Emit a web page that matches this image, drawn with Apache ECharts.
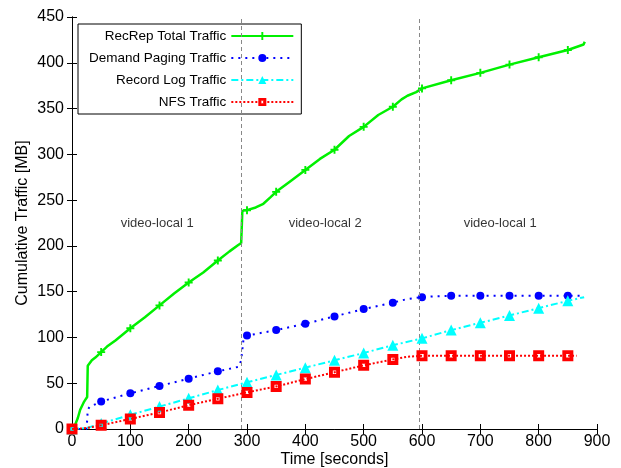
<!DOCTYPE html>
<html>
<head>
<meta charset="utf-8">
<script src="https://cdn.jsdelivr.net/npm/echarts@6/dist/echarts.min.js"></script>
<style>html,body{margin:0;padding:0;background:#fff}#c{width:621px;height:468px}</style>
</head>
<body>
<div id="c"></div>
<script>
// ---- data ----
const seriesNames = ['RecRep Total Traffic', 'Demand Paging Traffic', 'Record Log Traffic', 'NFS Traffic'];

const totalTime = [0, 5, 10, 14, 20, 23, 26, 27, 34, 40, 50, 60, 75, 100, 125, 150, 175, 200, 225, 250, 270, 285, 290, 292, 296, 300, 315, 328, 340, 350, 375, 400, 425, 450, 475, 500, 525, 550, 565, 575, 590, 600, 650, 700, 750, 800, 850, 877, 879];
const totalMB   = [0, 4, 12, 21, 29, 32, 35, 69, 75, 78, 84, 90, 97, 110, 122, 135, 148, 160, 171, 184, 194, 201, 203, 238, 239, 239, 242, 246, 253, 259, 271, 283, 295, 305, 320, 330, 343, 352, 360, 364, 368, 372, 381, 389, 398, 406, 414, 420, 423];

const pagingTime = [0, 25, 26, 27, 30, 50, 100, 150, 200, 250, 286, 289, 290, 294, 300, 350, 400, 450, 500, 550, 575, 600, 625, 650, 700, 750, 800, 850, 875];
const pagingMB   = [0, 0, 10, 21, 24, 30, 39, 47, 55, 63, 68, 69, 75, 98, 102, 108, 115, 123, 131, 138, 142, 144, 145, 145.5, 145.5, 145.5, 145.5, 145.5, 145.5];

const logTime = [0, 25, 50, 100, 150, 200, 250, 300, 350, 400, 450, 500, 550, 600, 650, 700, 750, 800, 850, 878];
const logMB   = [0, 1, 6, 15.5, 24.5, 33.5, 42.5, 51, 59, 67, 75, 83, 91.5, 99, 108, 116, 124, 132, 140, 144];

const nfsTime = [0, 25, 50, 100, 150, 200, 250, 300, 350, 400, 450, 500, 550, 575, 600, 650, 700, 750, 800, 850, 865];
const nfsMB   = [0, 1, 4, 11, 18, 26, 33, 40, 46.5, 54.5, 62, 69.5, 76, 79, 80, 80, 80, 80, 80, 80, 80];

const phaseBoundaries = [290, 595];
const phaseLabels = ['video-local 1', 'video-local 2', 'video-local 1'];
const phaseLabelTime = [146, 434, 734];
const phaseLabelMB = [225, 225, 225];

const xTicks = { min: 0, max: 900, interval: 100 };
const yTicks = { min: 0, max: 450, interval: 50 };

// ---- build ----
const FONT = 'Liberation Sans, Arial, Helvetica, sans-serif';
function mk(xs, ys) {
  return xs.map((x, i) => {
    const d = { value: [x, ys[i]] };
    if (x % 50 !== 0) d.symbol = 'none';
    return d;
  });
}
const plusPath = 'path://M3.8,0H6.2V3.8H10V6.2H6.2V10H3.8V6.2H0V3.8H3.8Z';
const boxPath = 'path://M0,0H10V10H0Z M3.5,3.5V6.5H6.5V3.5Z';

const chart = echarts.init(document.getElementById('c'), null, { renderer: 'canvas' });
const axisCommon = {
  type: 'value',
  axisLine: { show: true, lineStyle: { color: '#000', width: 1 } },
  axisTick: { show: true, inside: true, length: 5, lineStyle: { color: '#000' } },
  splitLine: { show: false }
};
chart.setOption({
  animation: false,
  textStyle: { fontFamily: FONT },
  grid: { left: 72, right: 24, top: 17, bottom: 39, containLabel: false, outerBoundsMode: 'none' },
  xAxis: [
    Object.assign({}, axisCommon, xTicks, {
      position: 'bottom',
      name: 'Time [seconds]', nameLocation: 'middle', nameGap: 23, nameMoveOverlap: false,
      nameTextStyle: { fontSize: 16, color: '#000', fontFamily: FONT },
      axisLabel: { fontSize: 16, color: '#000', margin: 5, fontFamily: FONT }
    }),
    Object.assign({}, axisCommon, xTicks, { position: 'top', axisLabel: { show: false } })
  ],
  yAxis: [
    Object.assign({}, axisCommon, yTicks, {
      position: 'left',
      name: 'Cumulative Traffic [MB]', nameLocation: 'middle', nameGap: 41, nameMoveOverlap: false,
      nameTextStyle: { fontSize: 16, color: '#000', fontFamily: FONT },
      axisLabel: { fontSize: 16, color: '#000', margin: 8, fontFamily: FONT }
    }),
    Object.assign({}, axisCommon, yTicks, { position: 'right', axisLabel: { show: false } })
  ],
  legend: {
    data: seriesNames,
    orient: 'vertical',
    align: 'right',
    left: 78, top: 24,
    padding: [5, 7, 5, 11],
    itemWidth: 62, itemHeight: 10, itemGap: 8,
    borderColor: '#000', borderWidth: 1,
    textStyle: { fontSize: 13.5, color: '#000', fontFamily: FONT }
  },
  series: [
    {
      name: seriesNames[0], type: 'line', data: mk(totalTime, totalMB), clip: false,
      symbol: plusPath, symbolSize: 8,
      lineStyle: { color: '#00f000', width: 2.5 },
      itemStyle: { color: '#00f000' },
      z: 3,
      markLine: {
        silent: true, symbol: 'none', label: { show: false },
        lineStyle: { color: '#888', type: [4, 3], width: 1 },
        data: phaseBoundaries.map(v => ({ xAxis: v }))
      }
    },
    {
      name: seriesNames[1], type: 'line', data: mk(pagingTime, pagingMB), clip: false,
      symbol: 'circle', symbolSize: 8,
      lineStyle: { color: '#0000ff', width: 2, type: [2, 5] },
      itemStyle: { color: '#0000ff' }, z: 4
    },
    {
      name: seriesNames[2], type: 'line', data: mk(logTime, logMB), clip: false,
      symbol: 'triangle', symbolSize: 11,
      lineStyle: { color: '#00ffff', width: 2, type: [7, 3, 2, 3] },
      itemStyle: { color: '#00ffff' }, z: 5
    },
    {
      name: seriesNames[3], type: 'line', data: mk(nfsTime, nfsMB), clip: false,
      symbol: boxPath, symbolSize: 11,
      lineStyle: { color: '#ff0000', width: 2, type: [2, 2] },
      itemStyle: { color: '#ff0000' }, z: 6
    },
    {
      name: 'labels', type: 'scatter', silent: true, symbolSize: 1,
      itemStyle: { color: 'rgba(0,0,0,0)' },
      data: phaseLabels.map((t, i) => ({ value: [phaseLabelTime[i], phaseLabelMB[i]], name: t })),
      label: { show: true, position: 'inside', formatter: p => p.name, fontSize: 13, color: '#000', fontFamily: FONT }
    }
  ]
});
</script>
</body>
</html>
